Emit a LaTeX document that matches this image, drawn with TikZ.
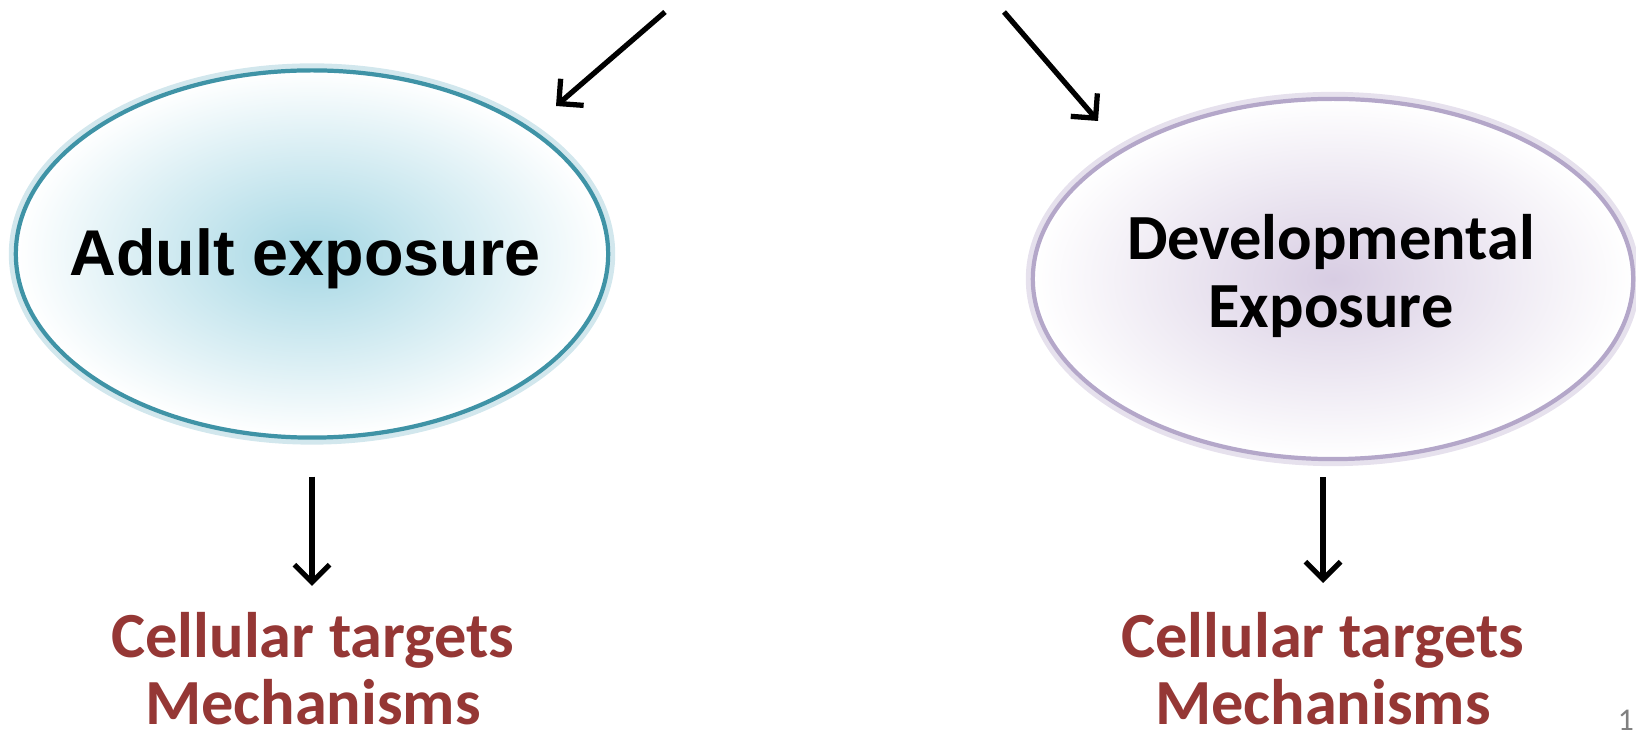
\documentclass[tikz,border=0pt]{standalone}
\usepackage{fontspec}
\setmainfont{Carlito}
\newfontfamily\arialfont{Liberation Sans}
\usetikzlibrary{arrows.meta,shapes.geometric}

\definecolor{adultcore}{RGB}{165,215,228}
\definecolor{adultline}{RGB}{63,147,166}
\definecolor{adultglow}{RGB}{210,231,237}
\definecolor{devcore}{RGB}{216,205,227}
\definecolor{devline}{RGB}{180,167,201}
\definecolor{devglow}{RGB}{230,225,237}
\definecolor{targetred}{RGB}{149,55,53}

\tikzset{
  exposure/.style={ellipse, inner sep=0, line width=1.2pt},
  target/.style={align=center, text=targetred, font=\bfseries\fontsize{18.3}{19.1}\selectfont},
  arr/.style={-{Straight Barb[length=5pt, width=10pt]}, line width=1.5pt}
}

\begin{document}
\begin{tikzpicture}[x=0.01cm, y=-0.01cm]
  \useasboundingbox (0,0) rectangle (1636,734);
  % the two exposure bubbles
  \node[exposure, draw=adultline, inner color=adultcore, outer color=white,
        preaction={draw=adultglow, line width=4pt},
        minimum width=5.92cm, minimum height=3.67cm] (adult) at (312,254) {};
  \node[font=\arialfont\bfseries\fontsize{18.4}{21}\selectfont] (adulttext) at (305,259)
        {Adult exposure};
  \node[exposure, draw=devline, inner color=devcore, outer color=white,
        preaction={draw=devglow, line width=4pt},
        minimum width=6.0cm, minimum height=3.6cm] (devel) at (1333,279) {};
  \node[align=center, font=\bfseries\fontsize{18.3}{19.3}\selectfont] (develtext) at (1331,276)
        {Developmental\\Exposure};
  % targets
  \node[target, anchor=north] (cellL) at (313,600) {Cellular targets\\Mechanisms};
  \node[target, anchor=north] (cellR) at (1323,600) {Cellular targets\\Mechanisms};
  % page number
  \node[text=gray, font=\fontsize{9}{10}\selectfont, anchor=base] (pagenum) at (1626,731) {1};
  % incoming arrows
  \coordinate (fromL) at (665,12);
  \coordinate (toL) at (556,106);
  \coordinate (fromR) at (1004,12);
  \coordinate (toR) at (1098,121);
  \draw[arr] (fromL) -- (toL);
  \draw[arr] (fromR) -- (toR);
  % outgoing arrows
  \draw[arr, shorten <=0.37cm, shorten >=0.14cm] (adult.south) -- (adult.south |- cellL.north);
  \draw[arr, shorten <=0.16cm, shorten >=0.17cm] (devel.south -| cellR.north) -- (cellR.north);
\end{tikzpicture}
\end{document}
